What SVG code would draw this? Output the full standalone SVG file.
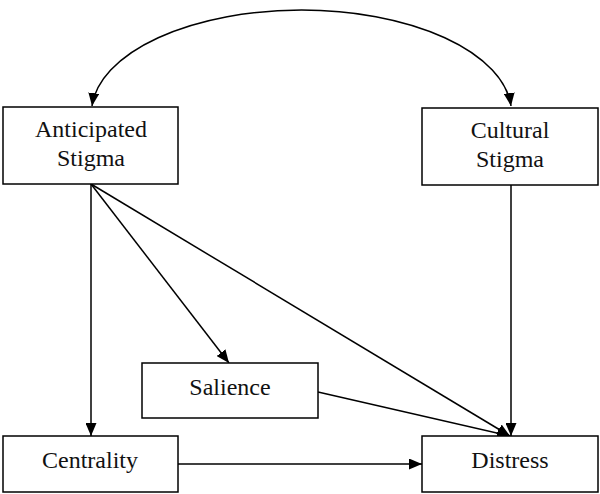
<svg xmlns="http://www.w3.org/2000/svg" width="600" height="494" viewBox="0 0 600 494">
<style>
.box{fill:#fff;stroke:#000;stroke-width:1.5}
.lbl{font-family:"Liberation Serif","Times New Roman",serif;font-size:24px;fill:#111;text-anchor:middle}
.edge{fill:none;stroke:#000;stroke-width:1.5;marker-end:url(#ah)}
</style>
<defs>
<marker id="ah" viewBox="0 0 13 11" refX="13" refY="5.5" markerWidth="13" markerHeight="11" markerUnits="userSpaceOnUse" orient="auto-start-reverse">
<path d="M0,0 L13,5.5 L0,11 z" fill="#000"/>
</marker>
</defs>
<g id="connectors">
<path class="edge" style="marker-start:url(#ah)" d="M92,106 A210,103 0 0 1 511,106"/>
<path class="edge" d="M91,184 L91,436"/>
<path class="edge" d="M91,184 L229,363"/>
<path class="edge" d="M91,184 L510,436"/>
<path class="edge" d="M511,185 L511,436"/>
<path class="edge" d="M318,392 L510,436"/>
<path class="edge" d="M178,464 L422,464"/>
</g>
<g id="anticipated">
<rect class="box" x="3" y="107" width="175" height="77"/>
<text class="lbl" x="91" y="137">Anticipated</text>
<text class="lbl" x="91" y="166">Stigma</text>
</g>
<g id="cultural">
<rect class="box" x="422" y="108" width="176" height="77"/>
<text class="lbl" x="510" y="138">Cultural</text>
<text class="lbl" x="510" y="167">Stigma</text>
</g>
<g id="salience">
<rect class="box" x="142" y="363" width="176" height="55"/>
<text class="lbl" x="230" y="395">Salience</text>
</g>
<g id="centrality">
<rect class="box" x="3" y="436" width="175" height="56"/>
<text class="lbl" x="90" y="468">Centrality</text>
</g>
<g id="distress">
<rect class="box" x="422" y="436" width="176" height="56"/>
<text class="lbl" x="510" y="468">Distress</text>
</g>
</svg>
